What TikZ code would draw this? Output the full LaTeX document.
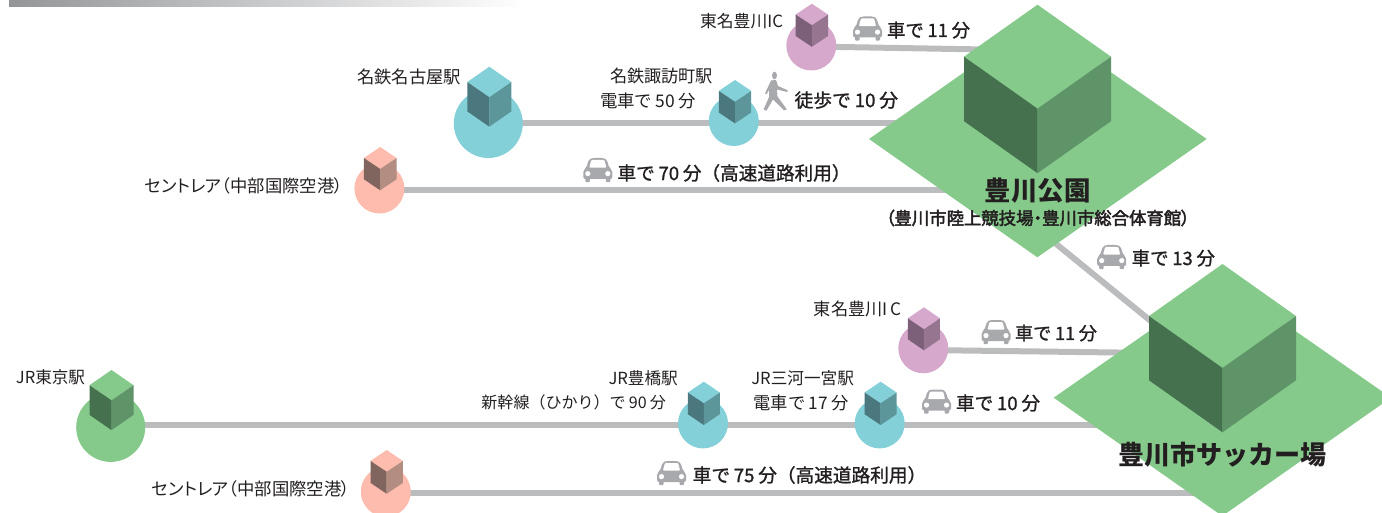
\documentclass[tikz,border=0pt]{standalone}
\usepackage{graphicx}
\usepackage{fontspec}
\setmainfont{Noto Sans CJK JP}
\usetikzlibrary{backgrounds}
\definecolor{roadgrey}{HTML}{BBBCBE}
\definecolor{icongrey}{HTML}{A7A9AC}
\definecolor{bargrey}{HTML}{939598}
\definecolor{ink}{HTML}{231F20}
\definecolor{gtop}{HTML}{85CA8B}\definecolor{gleft}{HTML}{45714F}\definecolor{gright}{HTML}{5E9468}
\definecolor{ttop}{HTML}{84D0D8}\definecolor{tleft}{HTML}{4A787E}\definecolor{tright}{HTML}{5C969B}
\definecolor{ptop}{HTML}{D6A8CC}\definecolor{pleft}{HTML}{7C5F78}\definecolor{pright}{HTML}{967590}
\definecolor{stop}{HTML}{FDBCAE}\definecolor{sleft}{HTML}{80645E}\definecolor{sright}{HTML}{B38C82}
% width-fitted label, vertically centred on CJK body
\newcommand{\fitlabel}[2]{\resizebox{#1pt}{!}{\rule[-.12em]{0pt}{1em}\smash{#2}}}
\newcommand{\palt}{\addfontfeatures{RawFeature=+palt}}
\newcommand{\medw}{\addfontfeatures{FakeBold=1.2}}
\newcommand{\subw}{\addfontfeatures{FakeBold=2.5}}
\newcommand{\gap}{\kern.2em}
% \isocube{x}{top y}{half width}{top-face half height}{side height}{colour prefix}
\newcommand{\isocube}[6]{%
  \fill[#6top] (#1,#2) -- (#1+#3,#2+#4) -- (#1,#2+2*#4) -- (#1-#3,#2+#4) -- cycle;
  \fill[#6left] (#1-#3,#2+#4) -- (#1,#2+2*#4) -- (#1,#2+2*#4+#5) -- (#1-#3,#2+#4+#5) -- cycle;
  \fill[#6right] (#1+#3,#2+#4) -- (#1,#2+2*#4) -- (#1,#2+2*#4+#5) -- (#1+#3,#2+#4+#5) -- cycle;
}
\tikzset{
  road/.style={draw=roadgrey,line width=6pt},
  hub/.style={circle,inner sep=0pt,minimum size=50pt},
  bighub/.style={circle,inner sep=0pt,minimum size=69pt},
  lbl/.style={inner sep=0pt,text=ink},
  caricon/.pic={
    \fill[icongrey,rounded corners=2pt] (-14.5,9) -- (-14.5,0) -- (-11.5,-2) -- (-9,-10.5) -- (-6,-12) -- (6,-12) -- (9,-10.5) -- (11.5,-2) -- (14.5,0) -- (14.5,9) -- cycle;
    \fill[white,rounded corners=1pt] (-8.6,-2.3) -- (-6.6,-10) -- (6.6,-10) -- (8.6,-2.3) -- cycle;
    \fill[white] (-10,3.6) circle (2.6pt) (10,3.6) circle (2.6pt);
    \fill[icongrey,rounded corners=1pt] (-12.5,7) rectangle (-8,12.2) (8,7) rectangle (12.5,12.2);
  }
}
\begin{document}
\begin{tikzpicture}[x=1pt,y=-1pt]
\useasboundingbox (0,0) rectangle (1382,513);
\clip (0,0) rectangle (1382,513);
\shade[left color=bargrey,right color=white] (9,0) rectangle (525,6.3);
% hubs
\node[hub,fill=ptop] (ict) at (811.3,45.5) {};
\node[bighub,fill=ttop] (nagoya) at (488.3,123.5) {};
\node[hub,fill=ttop] (suwa) at (733.8,121) {};
\node[hub,fill=stop] (centt) at (379.4,188.5) {};
\node[bighub,fill=gtop] (tokyo) at (110.7,427.4) {};
\node[hub,fill=ttop] (toyo) at (703,423.4) {};
\node[hub,fill=ttop] (mikawa) at (879.7,423.4) {};
\node[hub,fill=ptop] (icb) at (923.3,348.3) {};
\node[hub,fill=stop] (centb) at (385.8,491.7) {};
\coordinate (parkIC) at (985,49.5);
\coordinate (parkTrain) at (950,122.7);
\coordinate (parkCar) at (970,190);
\coordinate (parkLow) at (1037.3,228.6);
\coordinate (stadTop) at (1160,328.5);
\coordinate (stadIC) at (1140,352.8);
\coordinate (stadTrain) at (1150,425);
\coordinate (stadCar) at (1230,493);
\begin{scope}[on background layer]
\draw[road] (ict.center |- 0,46.5) -- (parkIC);
\draw[road] (nagoya |- parkTrain) -- (parkTrain);
\draw[road] (centt |- parkCar) -- (parkCar);
\draw[road] (parkLow) -- (stadTop);
\draw[road] (icb.center |- 0,350) -- (stadIC);
\draw[road] (tokyo |- stadTrain) -- (stadTrain);
\draw[road] (centb |- stadCar) -- (stadCar);
\end{scope}
% small cubes
\isocube{811.9}{3.7}{16.2}{10.8}{21.5}{p}
\isocube{489.3}{66.7}{22}{15.3}{29.4}{t}
\isocube{735}{80}{16.2}{10.9}{21.6}{t}
\isocube{380.2}{147}{16.3}{11}{21.3}{s}
\isocube{111.5}{370}{22}{15.2}{29.7}{g}
\isocube{923.9}{307.3}{16}{11}{21}{p}
\isocube{703.8}{381.7}{16}{10.8}{21.7}{t}
\isocube{880.6}{381.7}{16}{10.8}{21.7}{t}
\isocube{386.7}{450}{16.2}{10.9}{22}{s}
% destinations
\fill[gtop] (869,139) -- (1037.3,21) -- (1206.7,139) -- (1037.3,257.3) -- cycle;
\isocube{1037.5}{4.7}{73.5}{52}{64.5}{g}
\fill[gtop] (1053.7,397.7) -- (1222.3,280) -- (1391,397.7) -- (1222.3,516) -- cycle;
\isocube{1222.5}{264}{73.5}{52}{64.3}{g}
% cars
\pic at (867.5,28.5) {caricon};
\pic at (597.8,170) {caricon};
\pic at (1111.7,257) {caricon};
\pic at (996,332) {caricon};
\pic at (936.5,401.5) {caricon};
\pic at (671.5,473) {caricon};
% walker
\fill[icongrey] (774.5,75.5) ellipse (2.5pt and 3.8pt);
\fill[icongrey] (771,80.5) -- (776,80) -- (778,86) -- (787.8,90.4) -- (787.2,92) -- (777,89.5) -- (777.5,96.5) -- (786.8,109.2) -- (784,110.4) -- (773,99.5) -- (766.5,110.6) -- (763.6,109.6) -- (769,97) -- (769,90) -- (766.6,94.2) -- (765,93.4) -- cycle;
% labels
\node[lbl] (l1) at (741.5,21) {\fitlabel{83}{東名豊川IC}};
\node[lbl] (l2) at (928.5,30) {\fitlabel{83}{\medw 車で\gap 11\gap 分}};
\node[lbl] (l3) at (409,77) {\fitlabel{104}{名鉄名古屋駅}};
\node[lbl] (l4) at (661.5,76) {\fitlabel{103}{名鉄諏訪町駅}};
\node[lbl] (l5) at (648,100.6) {\fitlabel{96}{電車で\gap 50\gap 分}};
\node[lbl] (l6) at (846.3,100) {\fitlabel{103.4}{\medw 徒歩で\gap 10\gap 分}};
\node[lbl] (l7) at (734,173) {\fitlabel{233}{\medw 車で\gap 70\gap 分（高速道路利用）}};
\node[lbl] (l8) at (244,186) {\fitlabel{198}{\palt セントレア（中部国際空港）}};
\node[lbl] (l9) at (1037.8,190.7) {\fitlabel{105.7}{\bfseries 豊川公園}};
\node[lbl] (l10) at (1037.8,218) {\fitlabel{304}{\subw\palt （豊川市陸上競技場・豊川市総合体育館）}};
\node[lbl] (l11) at (1173.3,258) {\fitlabel{83.3}{\medw 車で\gap 13\gap 分}};
\node[lbl] (l12) at (857.8,309.3) {\fitlabel{87.7}{東名豊川I\,C}};
\node[lbl] (l13) at (1056,333) {\fitlabel{82}{\medw 車で\gap 11\gap 分}};
\node[lbl] (l14) at (643.2,377.7) {\fitlabel{69.3}{JR豊橋駅}};
\node[lbl] (l15) at (573.7,402.7) {\fitlabel{184.5}{新幹線（ひかり）で\gap 90\gap 分}};
\node[lbl] (l16) at (802.6,377.7) {\fitlabel{102.6}{JR三河一宮駅}};
\node[lbl] (l17) at (801.2,402.7) {\fitlabel{95.3}{電車で\gap 17\gap 分}};
\node[lbl] (l18) at (998,403) {\fitlabel{84}{\medw 車で\gap 10\gap 分}};
\node[lbl] (l19) at (809.5,475) {\fitlabel{233.5}{\medw 車で\gap 75\gap 分（高速道路利用）}};
\node[lbl] (l20) at (50.5,377.3) {\fitlabel{69}{JR東京駅}};
\node[lbl] (l21) at (251,489.3) {\fitlabel{198.5}{\palt セントレア（中部国際空港）}};
\node[lbl] (l22) at (1222.5,455) {\fitlabel{208.4}{\bfseries 豊川市サッカー場}};
\end{tikzpicture}
\end{document}
